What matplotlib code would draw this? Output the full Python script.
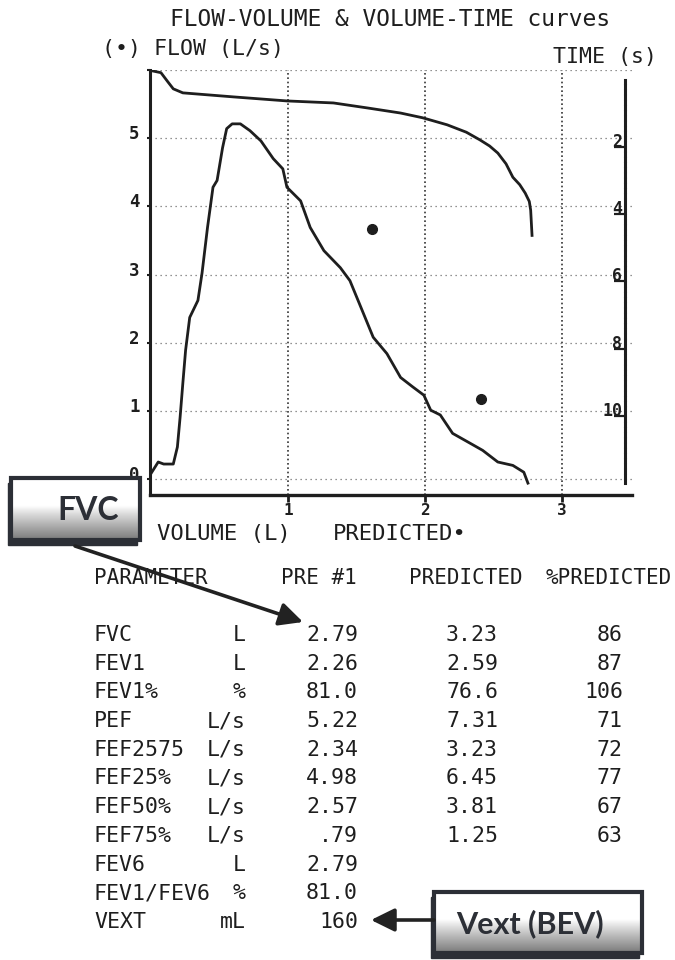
import numpy as np
import matplotlib
matplotlib.use('Agg')
import matplotlib.pyplot as plt
from matplotlib.transforms import ScaledTranslation
from matplotlib.patches import Rectangle

plt.rcParams['font.family'] = ['DejaVu Sans Mono', 'DejaVu Sans']
INK = '#1e1e1e'
BOXINK = '#2c2f36'

# ---------------- data ----------------
# Flow-volume loop (volume L, flow L/s)
fv_volume = [0.00, 0.05, 0.09, 0.16, 0.19, 0.21, 0.23, 0.25, 0.28, 0.34, 0.37, 0.41,
             0.45, 0.48, 0.52, 0.55, 0.59, 0.65, 0.72, 0.80, 0.89, 0.96, 0.99, 1.09,
             1.16, 1.26, 1.38, 1.45, 1.53, 1.62, 1.72, 1.82, 1.91, 1.99, 2.04, 2.11,
             2.20, 2.35, 2.42, 2.53, 2.64, 2.72, 2.75]
fv_flow = [0.09, 0.25, 0.22, 0.22, 0.47, 0.91, 1.41, 1.89, 2.37, 2.62, 3.02, 3.69,
           4.28, 4.38, 4.86, 5.14, 5.21, 5.21, 5.11, 4.96, 4.70, 4.55, 4.28, 4.08,
           3.69, 3.35, 3.10, 2.91, 2.52, 2.08, 1.84, 1.49, 1.35, 1.23, 1.01, 0.94,
           0.67, 0.50, 0.42, 0.25, 0.20, 0.10, -0.06]

# Volume-time curve (volume L on x, time s on right axis, downward)
vt_volume = [0.00, 0.07, 0.12, 0.16, 0.23, 0.60, 0.99, 1.33, 1.58, 1.82, 1.98, 2.16,
             2.30, 2.40, 2.47, 2.53, 2.59, 2.64, 2.69, 2.73, 2.76, 2.77, 2.78]
vt_time = [-0.27, -0.21, 0.06, 0.27, 0.39, 0.51, 0.63, 0.69, 0.84, 0.99, 1.13, 1.34,
           1.56, 1.79, 1.97, 2.18, 2.50, 2.90, 3.12, 3.37, 3.62, 3.88, 4.63]

# Predicted points
pred_volume = [1.61, 2.41]
pred_flow = [3.67, 1.17]

# Ticks
flow_ticks = [0, 1, 2, 3, 4, 5, 6]
flow_labels = ['0', '1', '2', '3', '4', '5', '']
volume_ticks = [1, 2, 3]
volume_labels = ['1', '2', '3']
time_ticks = [2, 4, 6, 8, 10]
time_labels = ['2', '4', '6', '8', '10']

# Table
params = ['FVC', 'FEV1', 'FEV1%', 'PEF', 'FEF2575', 'FEF25%', 'FEF50%', 'FEF75%',
          'FEV6', 'FEV1/FEV6', 'VEXT']
units = ['L', 'L', '%', 'L/s', 'L/s', 'L/s', 'L/s', 'L/s', 'L', '%', 'mL']
pre1 = ['2.79', '2.26', '81.0', '5.22', '2.34', '4.98', '2.57', '.79', '2.79', '81.0', '160']
predicted = ['3.23', '2.59', '76.6', '7.31', '3.23', '6.45', '3.81', '1.25', '', '', '']
pct_predicted = ['86', '87', '106', '71', '72', '77', '67', '63', '', '', '']
headers = ['PARAMETER', 'PRE #1', 'PREDICTED', '%PREDICTED']

# ---------------- figure ----------------
W, H = 675, 960
fig = plt.figure(figsize=(W / 100, H / 100), dpi=100)
fig.patch.set_facecolor('white')


def fx(px):
    return px / W


def fy(py):
    return 1 - py / H


def shift(labels, dx, dy):
    off = ScaledTranslation(dx / 100, dy / 100, fig.dpi_scale_trans)
    for lab in labels:
        lab.set_transform(lab.get_transform() + off)


ax = fig.add_axes([fx(150), fy(495), (632 - 150) / W, (495 - 70) / H])
ax.set_xlim(-0.01, 3.51)
ax.set_ylim(-0.234, 6.0)
ax.plot(fv_volume, fv_flow, color=INK, lw=2.0, solid_joinstyle='round', zorder=3)
ax.plot(pred_volume, pred_flow, 'o', color=INK, ms=7, zorder=4)

for s in ['top', 'right']:
    ax.spines[s].set_visible(False)
ax.spines['left'].set_linewidth(2.2)
ax.spines['bottom'].set_linewidth(2.4)
ax.spines['left'].set_color(INK)
ax.spines['bottom'].set_color(INK)

ax.set_xticks(volume_ticks)
ax.set_xticklabels(volume_labels)
ax.set_yticks(flow_ticks)
ax.set_yticklabels(flow_labels)
ax.tick_params(axis='x', direction='out', length=5, width=2, pad=0.5, labelsize=11.5,
               colors=INK)
ax.tick_params(axis='y', direction='out', length=2.5, width=1.5, pad=5, labelsize=12.5,
               colors=INK)
for lab in ax.get_xticklabels() + ax.get_yticklabels():
    lab.set_fontweight('bold')
shift(ax.get_yticklabels(), 0, 6)

ax.yaxis.grid(True, color='#707070', lw=0.9, ls=(0, (1, 3)))
ax.xaxis.grid(True, color='#333333', lw=1.2, ls=(0, (1, 1.6)))
ax.set_axisbelow(True)

# time axis
ax2 = ax.twinx()
ax2.set_ylim(12.35, -0.29)
for s in ['top', 'left', 'bottom']:
    ax2.spines[s].set_visible(False)
ax2.spines['right'].set_position(('axes', (625 - 150) / (632 - 150)))
ax2.spines['right'].set_bounds(0, 12)
ax2.spines['right'].set_linestyle((0, (1, 0.7)))
ax2.spines['right'].set_linewidth(2.2)
ax2.spines['right'].set_color(INK)
ax2.plot(vt_volume, vt_time, color=INK, lw=2.0, solid_joinstyle='round', zorder=3)
ax2.set_yticks(time_ticks)
ax2.set_yticklabels(time_labels)
ax2.tick_params(axis='y', direction='in', length=8, width=1.6, pad=-2, labelsize=12,
                colors=INK)
for lab in ax2.get_yticklabels():
    lab.set_ha('right')
    lab.set_fontweight('bold')
shift(ax2.get_yticklabels(), 0, 7)

# ---------------- overlay for text / annotations ----------------
ov = fig.add_axes([0, 0, 1, 1])
ov.set_xlim(0, W)
ov.set_ylim(H, 0)
ov.axis('off')

ov.text(390, 20, 'FLOW-VOLUME & VOLUME-TIME curves', fontsize=16.5, ha='center',
        va='center', color=INK)
ov.text(102, 49, '(\u2022) FLOW (L/s)', fontsize=15.5, ha='left', va='center', color=INK)
ov.text(657, 57, 'TIME (s)', fontsize=15.5, ha='right', va='center', color=INK)
ov.text(157, 534, 'VOLUME (L)', fontsize=16, ha='left', va='center', color=INK)
ov.text(333, 534, 'PREDICTED\u2022', fontsize=16, ha='left', va='center', color=INK)

# table
ty = 578
ov.text(94, ty, headers[0], fontsize=15, ha='left', va='center', color=INK)
ov.text(357, ty, headers[1], fontsize=15, ha='right', va='center', color=INK)
ov.text(466, ty, headers[2], fontsize=15, ha='center', va='center', color=INK)
ov.text(672, ty, headers[3], fontsize=15, ha='right', va='center', color=INK)
for i in range(len(params)):
    y = 635 + i * 28.7
    ov.text(94, y, params[i], fontsize=15.5, ha='left', va='center', color=INK)
    ov.text(246, y, units[i], fontsize=15.5, ha='right', va='center', color=INK)
    ov.text(358, y, pre1[i], fontsize=15.5, ha='right', va='center', color=INK)
    ov.text(498, y, predicted[i], fontsize=15.5, ha='right', va='center', color=INK)
    ov.text(623, y, pct_predicted[i], fontsize=15.5, ha='right', va='center', color=INK)

# gradient boxes
t = np.linspace(0, 1, 120)
grad = np.where(t < 0.45, 1.0, 1.0 - 0.52 * ((t - 0.45) / 0.55) ** 0.9)
grad = grad[:, None] * np.ones((1, 4))


def callout(x0, y0, x1, y1, text, fs, tx):
    ov.add_patch(Rectangle((x0 - 3, y0 + 5), x1 - x0, y1 - y0, facecolor=BOXINK,
                           edgecolor=BOXINK, lw=1, zorder=5))
    ov.imshow(grad, cmap='gray', vmin=0, vmax=1, extent=[x0, x1, y1, y0],
              aspect='auto', zorder=6, interpolation='bilinear')
    ov.add_patch(Rectangle((x0, y0), x1 - x0, y1 - y0, facecolor='none',
                           edgecolor=BOXINK, lw=3, zorder=7))
    ov.text(tx, (y0 + y1) / 2 + 1, text, fontsize=fs, family='Lato', weight='bold',
            color=BOXINK, ha='center', va='center', zorder=8)


callout(11, 478, 140, 540, 'FVC', 23, 88)
callout(434, 892, 642, 953, 'Vext (BEV)', 22, 530)

arrow = dict(arrowstyle='-|>,head_length=0.65,head_width=0.32', lw=2.6, color='#222222',
             mutation_scale=22, shrinkA=0, shrinkB=0)
ov.annotate('', xy=(303, 622), xytext=(75, 546), arrowprops=arrow, zorder=9)
ov.annotate('', xy=(371, 920), xytext=(434, 920), arrowprops=arrow, zorder=9)

ov.set_xlim(0, W)
ov.set_ylim(H, 0)

fig.savefig('out.png', dpi=100, facecolor='white')
